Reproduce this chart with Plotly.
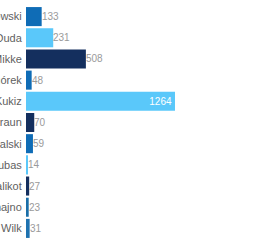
import plotly.graph_objects as go

candidates = ["Komorowski", "Duda", "Korwin-Mikke", "Ogórek", "Kukiz", "Braun",
              "Kowalski", "Jarubas", "Palikot", "Tanajno", "Wilk"]
values = [133, 231, 508, 48, 1264, 70, 59, 14, 27, 23, 31]
colors = ["#0f6cb6", "#5ac8fa", "#142f5e", "#0f6cb6", "#5ac8fa", "#142f5e",
          "#0f6cb6", "#5ac8fa", "#142f5e", "#1a6ea8", "#1e72b0"]
label_inside = [False, False, False, False, True, False,
                False, False, False, False, False]

FONT = "Liberation Sans, Arial, sans-serif"

fig = go.Figure(go.Bar(
    x=values, y=candidates, orientation="h",
    marker=dict(color=colors, line=dict(width=0)),
    width=0.9,
    text=[str(v) if ins else "" for v, ins in zip(values, label_inside)],
    textposition="inside",
    insidetextanchor="end",
    insidetextfont=dict(color="#ffffff", size=10, family=FONT),
))

for cand, v, ins in zip(candidates, values, label_inside):
    if not ins:
        fig.add_annotation(x=v, y=cand, text=str(v), showarrow=False,
                           xanchor="left", yanchor="middle", xshift=-1,
                           borderpad=0,
                           font=dict(color="#9a9a9a", size=10, family=FONT))

fig.update_layout(
    width=270, height=250,
    margin=dict(l=26, r=0, t=6, b=11),
    paper_bgcolor="white", plot_bgcolor="white",
    showlegend=False,
    font=dict(family=FONT),
    uniformtext=dict(minsize=10, mode="show"),
)
fig.update_xaxes(range=[0, 2070], visible=False, showgrid=False, zeroline=False)
fig.update_yaxes(autorange="reversed", automargin=False, showgrid=False, zeroline=False,
                 ticks="outside", ticklen=1, tickcolor="white", showline=False,
                 tickfont=dict(size=11, color="#5f5f5f"))

fig.write_html("out.html")
